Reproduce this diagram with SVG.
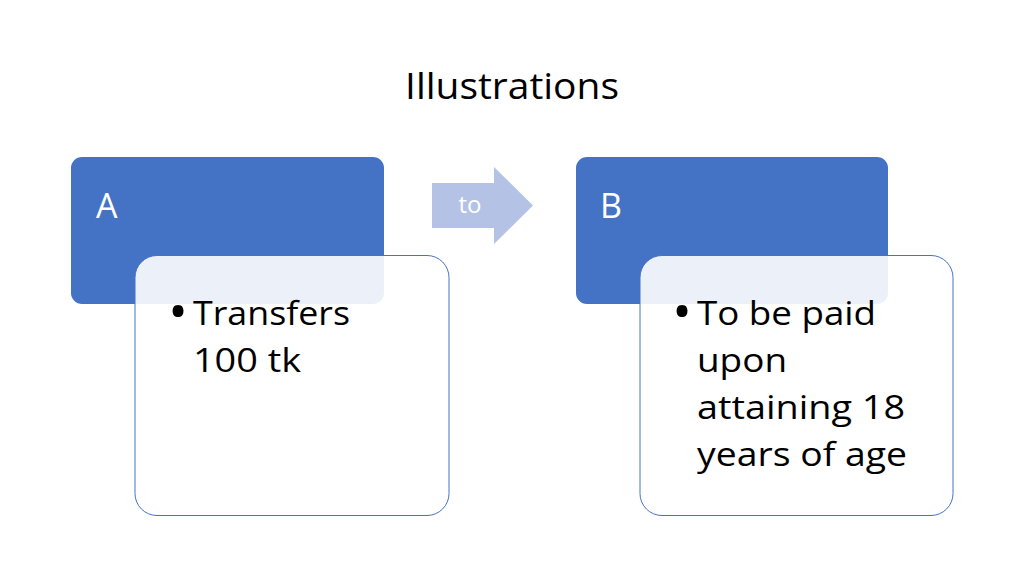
<svg xmlns="http://www.w3.org/2000/svg" width="1024" height="576" viewBox="0 0 1024 576">
<style>
.t{font-family:"Open Sans","Noto Sans","Liberation Sans",sans-serif}
.head{fill:#4472C4}
.card{fill:#ffffff;fill-opacity:0.9;stroke:#4472C4;stroke-width:1}
.lbl{fill:#ffffff;font-size:34px}
.body{fill:#000000;font-size:32px}
.bul{fill:#000000;font-size:52px}
</style>
<rect width="1024" height="576" fill="#ffffff"/>
<text class="t" x="512" y="99" text-anchor="middle" font-size="37" fill="#000000" textLength="214" lengthAdjust="spacingAndGlyphs">Illustrations</text>
<g id="nodeA">
<rect class="head" x="71" y="157" width="313" height="147" rx="11"/>
<text class="t lbl" x="96" y="218">A</text>
</g>
<g id="cardA">
<rect class="card" x="135" y="255.5" width="314" height="260" rx="22"/>
<text class="t bul" x="178" y="330" text-anchor="middle">•</text>
<text class="t body" x="193" y="325" textLength="157" lengthAdjust="spacingAndGlyphs">Transfers</text>
<text class="t body" x="193" y="372" textLength="108" lengthAdjust="spacingAndGlyphs">100 tk</text>
</g>
<g id="connectors">
<path d="M432 183 H494 V167 L533 205.5 L494 244 V228 H432 Z" fill="#B4C3E5"/>
<text class="t" x="470" y="213" text-anchor="middle" font-size="24" fill="#ffffff">to</text>
</g>
<g id="nodeB">
<rect class="head" x="576" y="157" width="312" height="147" rx="11"/>
<text class="t lbl" x="600" y="218">B</text>
</g>
<g id="cardB">
<rect class="card" x="640" y="255.5" width="313" height="260" rx="22"/>
<text class="t bul" x="682" y="330" text-anchor="middle">•</text>
<text class="t body" x="697" y="325" textLength="179" lengthAdjust="spacingAndGlyphs">To be paid</text>
<text class="t body" x="697" y="372" textLength="90" lengthAdjust="spacingAndGlyphs">upon</text>
<text class="t body" x="697" y="419" textLength="208" lengthAdjust="spacingAndGlyphs">attaining 18</text>
<text class="t body" x="697" y="466" textLength="210" lengthAdjust="spacingAndGlyphs">years of age</text>
</g>
</svg>
